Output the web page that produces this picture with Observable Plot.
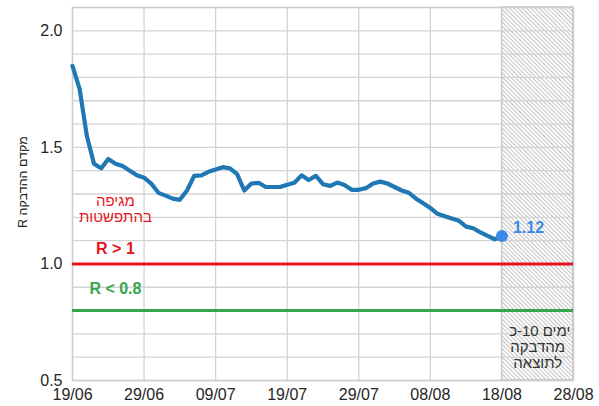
<!DOCTYPE html>
<html>
<head>
<meta charset="utf-8">
<script src="https://cdn.jsdelivr.net/npm/d3@7"></script>
<script src="https://cdn.jsdelivr.net/npm/@observablehq/plot@0.6"></script>
<style>
  body { margin: 0; background: #fff; }
  #chart svg { display: block; }
</style>
</head>
<body>
<div id="chart"></div>
<script>
// ---- data ----
const startLabel = "19/06";
const rValues = [
  1.85, 1.75, 1.55, 1.43, 1.41, 1.45, 1.43, 1.42, 1.40, 1.38,
  1.37, 1.345, 1.305, 1.293, 1.28, 1.275, 1.315, 1.378, 1.38, 1.395,
  1.405, 1.415, 1.41, 1.385, 1.315, 1.345, 1.348, 1.33, 1.33, 1.33,
  1.34, 1.348, 1.38, 1.36, 1.378, 1.342, 1.335, 1.349, 1.339, 1.318,
  1.318, 1.325, 1.345, 1.353, 1.345, 1.33, 1.315, 1.305, 1.28, 1.26,
  1.24, 1.215, 1.205, 1.195, 1.185, 1.16, 1.153, 1.135, 1.12, 1.106,
  1.12
];
const xTickLabels = ["19/06", "29/06", "09/07", "19/07", "29/07", "08/08", "18/08", "28/08"];
const yTickValues = [0.5, 1.0, 1.5, 2.0];
const yGridValues = [0.5, 0.6, 0.7, 0.8, 0.9, 1.0, 1.1, 1.2, 1.3, 1.4, 1.5, 1.6, 1.7, 1.8, 1.9, 2.0, 2.1];
const yLabel = "מקדם ההדבקה R";
const spreadLabel = "מגיפה\nבהתפשטות";
const aboveLabel = "R > 1";
const belowLabel = "R < 0.8";
const forecastWordA = "כ-10";
const forecastWordB = "ימים";
const forecastLine2 = "מהדבקה";
const forecastLine3 = "לתוצאה";
const forecastStartLabel = "18/08";
const forecastEndLabel = "28/08";

// ---- build ----
const parse = s => d3.utcParse("%d/%m/%Y")(s + "/2020");
const start = parse(startLabel);
const data = rValues.map((r, i) => ({date: d3.utcDay.offset(start, i), r}));
const tickDates = xTickLabels.map(parse);
const last = data[data.length - 1];
const forecast = [{x1: parse(forecastStartLabel), x2: parse(forecastEndLabel)}];

const red = "#e8141c";
const green = "#36a54c";
const blue = "#1f77b4";
const pointBlue = "#3b88e6";
const noteX = parse("23/08");

const plot = Plot.plot({
  width: 599,
  height: 406,
  marginLeft: 72,
  marginRight: 26,
  marginTop: 7,
  marginBottom: 26,
  style: {fontFamily: "'Liberation Sans', Arial, sans-serif", fontSize: "16px", color: "#262626", background: "#fff"},
  x: {type: "utc", domain: [tickDates[0], tickDates[tickDates.length - 1]]},
  y: {domain: [0.5, 2.1]},
  marks: [
    Plot.rect(forecast, {x1: "x1", x2: "x2", y1: 0.5, y2: 2.1, fill: "url(#hatch)", stroke: "#aaaaaa", strokeWidth: 1}),
    Plot.gridY(yGridValues, {stroke: "#d3d3d3", strokeOpacity: 1, strokeWidth: 1.3}),
    Plot.gridX(tickDates, {stroke: "#d3d3d3", strokeOpacity: 1, strokeWidth: 1.3}),
    Plot.frame({stroke: "#cccccc", strokeWidth: 1.3}),
    Plot.axisY({ticks: yTickValues, tickFormat: d => d.toFixed(1), tickSize: 0, tickPadding: 10, label: null, fontSize: 16}),
    Plot.axisX({ticks: tickDates, tickFormat: d3.utcFormat("%d/%m"), tickSize: 0, tickPadding: 8, label: null, fontSize: 16}),
    Plot.text([yLabel], {frameAnchor: "left", rotate: -90, dx: -50, dy: -12, textAnchor: "middle", fontSize: 12.5, fill: "#262626"}),
    Plot.ruleY([1.0], {stroke: red, strokeWidth: 3}),
    Plot.ruleY([0.8], {stroke: green, strokeWidth: 3}),
    Plot.line(data, {x: "date", y: "r", stroke: blue, strokeWidth: 4.2, strokeLinejoin: "round"}),
    Plot.dot([last], {x: "date", y: "r", r: 6, fill: pointBlue}),
    Plot.text([last], {x: "date", y: "r", text: d => d.r.toFixed(2), dx: 11, dy: -8, textAnchor: "start",
      fill: pointBlue, fontWeight: "bold", fontSize: 16}),
    Plot.text([spreadLabel], {x: parse("25/06"), y: 1.236, fill: red, fontSize: 15, lineHeight: 1.1}),
    Plot.text([aboveLabel], {x: parse("25/06"), y: 1.064, fill: red, fontWeight: "bold", fontSize: 16}),
    Plot.text([belowLabel], {x: parse("25/06"), y: 0.893, fill: green, fontWeight: "bold", fontSize: 16}),
    Plot.text([forecastWordA], {x: noteX, y: 0.7125, textAnchor: "end", dx: 1, fill: "#333333", fontSize: 15}),
    Plot.text([forecastWordB], {x: noteX, y: 0.7125, textAnchor: "start", dx: 5, fill: "#333333", fontSize: 15}),
    Plot.text([forecastLine2], {x: noteX, y: 0.644, fill: "#333333", fontSize: 15}),
    Plot.text([forecastLine3], {x: noteX, y: 0.5755, fill: "#333333", fontSize: 15})
  ]
});

// hatch pattern
const svgNS = "http://www.w3.org/2000/svg";
const defs = document.createElementNS(svgNS, "defs");
defs.innerHTML = `<pattern id="hatch" patternUnits="userSpaceOnUse" width="3" height="3" patternTransform="rotate(-45)">
  <rect width="3" height="3" fill="#ffffff"/>
  <line x1="0" y1="0" x2="0" y2="3" stroke="#909090" stroke-width="1.1"/>
</pattern>`;
plot.insertBefore(defs, plot.firstChild);

// text direction tweaks
plot.querySelectorAll("text").forEach(t => {
  if (t.textContent === yLabel) t.setAttribute("direction", "rtl");
  if (t.textContent === forecastWordA) {
    t.setAttribute("direction", "ltr");
    t.style.unicodeBidi = "bidi-override";
  }
});

document.getElementById("chart").appendChild(plot);
</script>
</body>
</html>
